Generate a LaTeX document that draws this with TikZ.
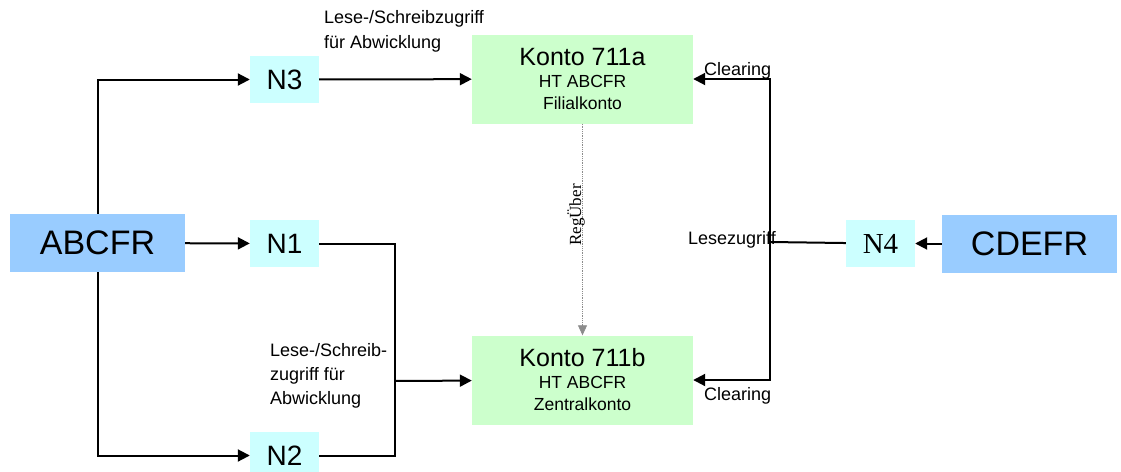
\documentclass[tikz,border=0pt]{standalone}
\usepackage{fontspec}
\setmainfont{Liberation Sans}
\newfontfamily\serifrm{Liberation Serif}
\usepackage{tikz}
\usetikzlibrary{positioning,arrows.meta}
\definecolor{bank}{HTML}{99CCFF}
\definecolor{nkey}{HTML}{CCFFFF}
\definecolor{konto}{HTML}{CCFFCC}
\tikzset{
  bankbox/.style  = {rectangle, fill=bank, minimum width=175pt, minimum height=58pt,
                     font=\fontsize{34}{40}\selectfont, inner sep=0pt},
  nbox/.style     = {rectangle, fill=nkey, minimum width=69pt, minimum height=47pt,
                     font=\fontsize{28}{30}\selectfont, inner sep=0pt},
  kontobox/.style = {rectangle, fill=konto, minimum width=221pt, minimum height=89pt,
                     align=center, inner sep=0pt, font=\fontsize{17.5}{22}\selectfont},
  flow/.style     = {-{Triangle[length=12pt,width=12pt]}, line width=2pt, draw=black},
  wire/.style     = {line width=2pt, draw=black},
  reg/.style      = {-{Triangle[length=10pt,width=9pt]}, densely dotted, line width=0.8pt, draw=black!45},
  lbl/.style      = {font=\fontsize{18}{25}\selectfont, align=left, inner sep=0pt},
}
\begin{document}
\begin{tikzpicture}[x=1pt,y=-1pt]
  \useasboundingbox (0,0) rectangle (1121,471);

  \node[bankbox] (abcfr) at (97.5,243) {ABCFR};
  \node[bankbox] (cdefr) at (1029.5,243.5) {CDEFR};
  \node[nbox] (n3) at (284.5,79.5) {N3};
  \node[nbox] (n1) at (284.5,243.5) {N1};
  \node[nbox] (n2) at (284.5,455.5) {N2};
  \node[nbox, font=\serifrm\fontsize{29}{30}\selectfont] (n4) at (880.5,243.5) {N4};
  \node[kontobox] (ktoa) at (582.5,79) {{\fontsize{25}{27}\selectfont Konto 711a}\\HT ABCFR\\Filialkonto};
  \node[kontobox] (ktob) at (582.5,380) {{\fontsize{25}{27}\selectfont Konto 711b}\\HT ABCFR\\Zentralkonto};

  \coordinate (jl) at (394.5,381);
  \coordinate (jr) at (770,242);

  % ABCFR side
  \draw[flow] (abcfr.north) |- (n3);
  \draw[flow] (abcfr) -- (n1);
  \draw[flow] (abcfr.south) |- (n2);
  \draw[flow] (n3) -- (ktoa);
  \draw[wire] (n1) -| (jl);
  \draw[wire] (n2) -| (jl);
  \draw[flow] (jl) -- (ktob);

  % CDEFR side
  \draw[flow] (cdefr) -- (n4);
  \draw[wire] (n4) -- (jr);
  \draw[flow] (jr) |- (ktoa.east);
  \draw[flow] (jr) |- (ktob.east);

  \draw[reg] (ktoa) -- (ktob);
  \node[font=\serifrm\fontsize{17}{20}\selectfont, rotate=90, inner sep=0pt] (regl) at (576,215) {RegÜber};

  \node[lbl, anchor=north west] (lsa) at (324,10) {Lese-/Schreibzugriff\\für Abwicklung};
  \node[lbl, anchor=north west, font=\fontsize{18}{24}\selectfont] (lsb) at (270,343) {Lese-/Schreib-\\zugriff für\\Abwicklung};
  \node[lbl, anchor=base west] (cla) at (704,75) {Clearing};
  \node[lbl, anchor=base west] (clb) at (704,400) {Clearing};
  \node[lbl, anchor=base east] (lz) at (776,244) {Lesezugriff};
\end{tikzpicture}
\end{document}
